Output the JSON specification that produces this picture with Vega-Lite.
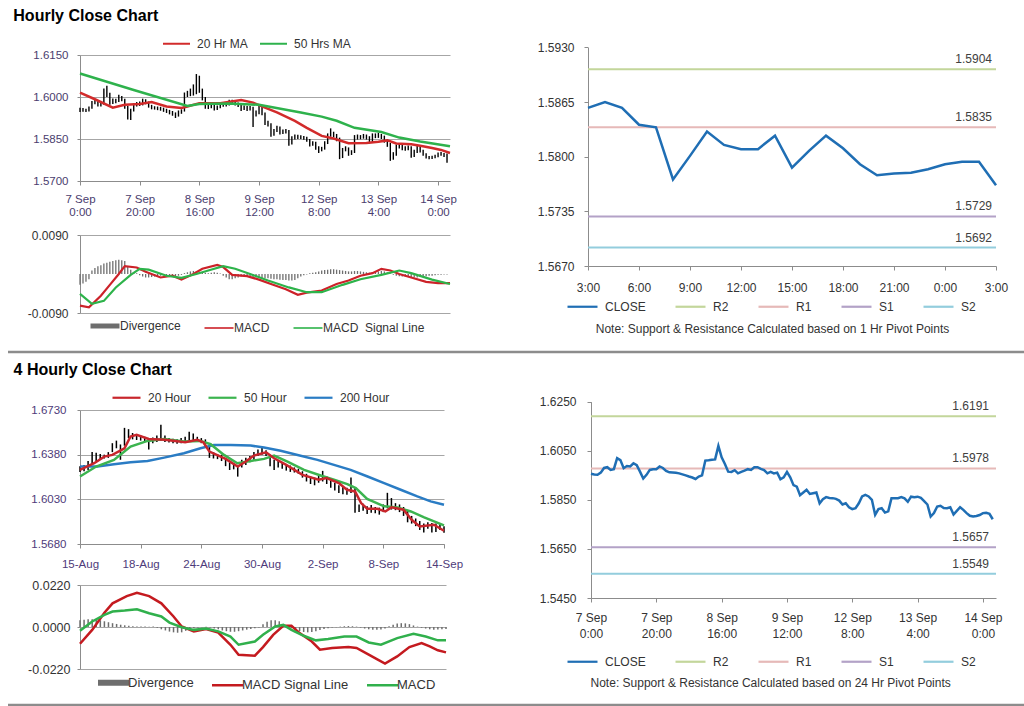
{
"$schema":"https://vega.github.io/schema/vega-lite/v6.json",
"background":"#ffffff",
"padding":{"left":6,"top":8,"right":0,"bottom":0},
"config":{"font":"Liberation Sans","view":{"stroke":null},
"axis":{"labelFont":"Liberation Sans","domainColor":"#8c8c8c","tickColor":"#8c8c8c","gridColor":"#a6a6a6","gridWidth":1,"domainWidth":1,"labelColor":"#404040"},
"legend":{"labelFont":"Liberation Sans","labelColor":"#333333","symbolType":"stroke","symbolStrokeWidth":2.2,"labelOffset":6},
"title":{"font":"Liberation Sans"}},
"datasets":{
"hourly":[
{"i":0,"c":1.5956,"l":1.5946,"h":1.5962,"d":-0.0025},{"i":1,"c":1.5953,"l":1.5947,"h":1.5961,"d":-0.0022},{"i":2,"c":1.5952,"l":1.5946,"h":1.5958,"d":-0.0018},{"i":3,"c":1.5961,"l":1.5948,"h":1.5966,"d":-0.0012},{"i":4,"c":1.5980,"l":1.5958,"h":1.5986,"d":0.0008},{"i":5,"c":1.5983,"l":1.5974,"h":1.5990,"d":0.0014},{"i":6,"c":1.5972,"l":1.5966,"h":1.5988,"d":0.0018},{"i":7,"c":1.5975,"l":1.5966,"h":1.5982,"d":0.0020},{"i":8,"c":1.6020,"l":1.5972,"h":1.6030,"d":0.0024},{"i":9,"c":1.6012,"l":1.6000,"h":1.6040,"d":0.0026},
{"i":10,"c":1.5979,"l":1.5972,"h":1.6015,"d":0.0028},{"i":11,"c":1.5988,"l":1.5975,"h":1.5995,"d":0.0030},{"i":12,"c":1.5986,"l":1.5978,"h":1.5994,"d":0.0032},{"i":13,"c":1.5999,"l":1.5982,"h":1.6008,"d":0.0033},{"i":14,"c":1.5991,"l":1.5985,"h":1.6004,"d":0.0032},{"i":15,"c":1.5965,"l":1.5958,"h":1.5994,"d":0.0030},{"i":16,"c":1.5937,"l":1.5920,"h":1.5968,"d":0.0018},{"i":17,"c":1.5952,"l":1.5918,"h":1.5958,"d":0.0010},{"i":18,"c":1.5972,"l":1.5948,"h":1.5978,"d":0.0004},{"i":19,"c":1.5975,"l":1.5966,"h":1.5982,"d":0.0002},
{"i":20,"c":1.5975,"l":1.5968,"h":1.5984,"d":-0.0003},{"i":21,"c":1.5986,"l":1.5970,"h":1.5994,"d":-0.0006},{"i":22,"c":1.5980,"l":1.5974,"h":1.5992,"d":-0.0008},{"i":23,"c":1.5968,"l":1.5962,"h":1.5984,"d":-0.0008},{"i":24,"c":1.5962,"l":1.5956,"h":1.5972,"d":-0.0007},{"i":25,"c":1.5961,"l":1.5955,"h":1.5967,"d":-0.0006},{"i":26,"c":1.5960,"l":1.5953,"h":1.5966,"d":-0.0005},{"i":27,"c":1.5958,"l":1.5951,"h":1.5965,"d":-0.0004},{"i":28,"c":1.5954,"l":1.5947,"h":1.5962,"d":-0.0003},{"i":29,"c":1.5950,"l":1.5943,"h":1.5958,"d":-0.0003},
{"i":30,"c":1.5945,"l":1.5938,"h":1.5954,"d":-0.0004},{"i":31,"c":1.5941,"l":1.5933,"h":1.5950,"d":-0.0005},{"i":32,"c":1.5935,"l":1.5925,"h":1.5945,"d":-0.0006},{"i":33,"c":1.5945,"l":1.5930,"h":1.5952,"d":-0.0004},{"i":34,"c":1.5950,"l":1.5940,"h":1.5956,"d":-0.0002},{"i":35,"c":1.6010,"l":1.5948,"h":1.6016,"d":0.0002},{"i":36,"c":1.6011,"l":1.6000,"h":1.6022,"d":0.0004},{"i":37,"c":1.6013,"l":1.6003,"h":1.6030,"d":0.0006},{"i":38,"c":1.6015,"l":1.6005,"h":1.6045,"d":0.0007},{"i":39,"c":1.6070,"l":1.6010,"h":1.6082,"d":0.0006},
{"i":40,"c":1.6023,"l":1.6015,"h":1.6076,"d":0.0005},{"i":41,"c":1.5996,"l":1.5988,"h":1.6030,"d":0.0004},{"i":42,"c":1.5965,"l":1.5958,"h":1.6000,"d":0.0003},{"i":43,"c":1.5964,"l":1.5957,"h":1.5972,"d":0.0002},{"i":44,"c":1.5971,"l":1.5960,"h":1.5978,"d":0.0003},{"i":45,"c":1.5958,"l":1.5952,"h":1.5975,"d":0.0004},{"i":46,"c":1.5964,"l":1.5954,"h":1.5970,"d":0.0003},{"i":47,"c":1.5969,"l":1.5960,"h":1.5975,"d":0.0001},{"i":48,"c":1.5975,"l":1.5965,"h":1.5982,"d":-0.0004},{"i":49,"c":1.5972,"l":1.5966,"h":1.5980,"d":-0.0008},
{"i":50,"c":1.5983,"l":1.5970,"h":1.5990,"d":-0.0012},{"i":51,"c":1.5983,"l":1.5976,"h":1.5990,"d":-0.0012},{"i":52,"c":1.5976,"l":1.5970,"h":1.5988,"d":-0.0010},{"i":53,"c":1.5971,"l":1.5964,"h":1.5980,"d":-0.0008},{"i":54,"c":1.5958,"l":1.5950,"h":1.5975,"d":-0.0006},{"i":55,"c":1.5964,"l":1.5954,"h":1.5970,"d":-0.0005},{"i":56,"c":1.5958,"l":1.5950,"h":1.5968,"d":-0.0006},{"i":57,"c":1.5961,"l":1.5952,"h":1.5968,"d":-0.0006},{"i":58,"c":1.5934,"l":1.5893,"h":1.5965,"d":-0.0007},{"i":59,"c":1.5942,"l":1.5930,"h":1.5952,"d":-0.0008},
{"i":60,"c":1.5964,"l":1.5938,"h":1.5970,"d":-0.0008},{"i":61,"c":1.5942,"l":1.5935,"h":1.5968,"d":-0.0009},{"i":62,"c":1.5910,"l":1.5900,"h":1.5945,"d":-0.0010},{"i":63,"c":1.5904,"l":1.5895,"h":1.5915,"d":-0.0010},{"i":64,"c":1.5869,"l":1.5858,"h":1.5906,"d":-0.0011},{"i":65,"c":1.5880,"l":1.5862,"h":1.5886,"d":-0.0012},{"i":66,"c":1.5891,"l":1.5875,"h":1.5897,"d":-0.0012},{"i":67,"c":1.5874,"l":1.5866,"h":1.5895,"d":-0.0013},{"i":68,"c":1.5877,"l":1.5868,"h":1.5884,"d":-0.0014},{"i":69,"c":1.5880,"l":1.5870,"h":1.5886,"d":-0.0014},
{"i":70,"c":1.5836,"l":1.5826,"h":1.5882,"d":-0.0015},{"i":71,"c":1.5853,"l":1.5830,"h":1.5860,"d":-0.0015},{"i":72,"c":1.5861,"l":1.5848,"h":1.5866,"d":-0.0014},{"i":73,"c":1.5858,"l":1.5850,"h":1.5865,"d":-0.0010},{"i":74,"c":1.5857,"l":1.5850,"h":1.5863,"d":-0.0006},{"i":75,"c":1.5854,"l":1.5847,"h":1.5861,"d":-0.0003},{"i":76,"c":1.5847,"l":1.5840,"h":1.5858,"d":-0.0001},{"i":77,"c":1.5831,"l":1.5823,"h":1.5850,"d":0.0002},{"i":78,"c":1.5836,"l":1.5826,"h":1.5842,"d":0.0003},{"i":79,"c":1.5820,"l":1.5812,"h":1.5840,"d":0.0004},
{"i":80,"c":1.5812,"l":1.5800,"h":1.5824,"d":0.0006},{"i":81,"c":1.5816,"l":1.5806,"h":1.5822,"d":0.0008},{"i":82,"c":1.5836,"l":1.5812,"h":1.5842,"d":0.0009},{"i":83,"c":1.5864,"l":1.5832,"h":1.5870,"d":0.0010},{"i":84,"c":1.5870,"l":1.5858,"h":1.5888,"d":0.0011},{"i":85,"c":1.5864,"l":1.5856,"h":1.5876,"d":0.0011},{"i":86,"c":1.5850,"l":1.5842,"h":1.5868,"d":0.0010},{"i":87,"c":1.5789,"l":1.5778,"h":1.5855,"d":0.0009},{"i":88,"c":1.5812,"l":1.5782,"h":1.5818,"d":0.0008},{"i":89,"c":1.5816,"l":1.5806,"h":1.5824,"d":0.0007},
{"i":90,"c":1.5798,"l":1.5790,"h":1.5820,"d":0.0006},{"i":91,"c":1.5803,"l":1.5793,"h":1.5810,"d":0.0006},{"i":92,"c":1.5857,"l":1.5800,"h":1.5864,"d":0.0007},{"i":93,"c":1.5857,"l":1.5848,"h":1.5866,"d":0.0007},{"i":94,"c":1.5857,"l":1.5849,"h":1.5864,"d":0.0006},{"i":95,"c":1.5861,"l":1.5851,"h":1.5868,"d":0.0005},{"i":96,"c":1.5856,"l":1.5848,"h":1.5866,"d":0.0004},{"i":97,"c":1.5842,"l":1.5834,"h":1.5860,"d":0.0003},{"i":98,"c":1.5863,"l":1.5838,"h":1.5870,"d":0.0004},{"i":99,"c":1.5861,"l":1.5853,"h":1.5870,"d":0.0005},
{"i":100,"c":1.5863,"l":1.5854,"h":1.5872,"d":0.0006},{"i":101,"c":1.5858,"l":1.5850,"h":1.5868,"d":0.0007},{"i":102,"c":1.5845,"l":1.5837,"h":1.5862,"d":0.0006},{"i":103,"c":1.5831,"l":1.5822,"h":1.5849,"d":0.0004},{"i":104,"c":1.5782,"l":1.5772,"h":1.5836,"d":0.0001},{"i":105,"c":1.5796,"l":1.5776,"h":1.5803,"d":-0.0002},{"i":106,"c":1.5823,"l":1.5790,"h":1.5830,"d":-0.0004},{"i":107,"c":1.5826,"l":1.5816,"h":1.5833,"d":-0.0005},{"i":108,"c":1.5817,"l":1.5810,"h":1.5830,"d":-0.0006},{"i":109,"c":1.5816,"l":1.5808,"h":1.5824,"d":-0.0006},
{"i":110,"c":1.5820,"l":1.5810,"h":1.5827,"d":-0.0007},{"i":111,"c":1.5790,"l":1.5783,"h":1.5824,"d":-0.0008},{"i":112,"c":1.5805,"l":1.5786,"h":1.5812,"d":-0.0008},{"i":113,"c":1.5820,"l":1.5800,"h":1.5826,"d":-0.0008},{"i":114,"c":1.5809,"l":1.5802,"h":1.5824,"d":-0.0007},{"i":115,"c":1.5796,"l":1.5790,"h":1.5812,"d":-0.0006},{"i":116,"c":1.5785,"l":1.5780,"h":1.5799,"d":-0.0005},{"i":117,"c":1.5782,"l":1.5778,"h":1.5789,"d":-0.0004},{"i":118,"c":1.5784,"l":1.5779,"h":1.5790,"d":-0.0004},{"i":119,"c":1.5788,"l":1.5781,"h":1.5794,"d":-0.0003},
{"i":120,"c":1.5796,"l":1.5785,"h":1.5802,"d":-0.0002},{"i":121,"c":1.5797,"l":1.5790,"h":1.5804,"d":-0.0002},{"i":122,"c":1.5793,"l":1.5786,"h":1.5800,"d":-0.0001},{"i":123,"c":1.5771,"l":1.5765,"h":1.5798,"d":-0.0001}],
"p1a":[{"i":0,"v":1.6016},{"i":5,"v":1.5992},{"i":11,"v":1.5962},{"i":15,"v":1.5972},{"i":20,"v":1.5975},{"i":24,"v":1.5982},{"i":29,"v":1.5966},{"i":34,"v":1.5961},{"i":36,"v":1.5966},{"i":40,"v":1.5978},{"i":47,"v":1.5978},{"i":54,"v":1.5989},{"i":58,"v":1.5980},{"i":62,"v":1.5962},{"i":66,"v":1.5945},{"i":72,"v":1.5915},{"i":76,"v":1.5890},{"i":81,"v":1.5861},{"i":85,"v":1.5852},{"i":90,"v":1.5835},{"i":96,"v":1.5836},{"i":100,"v":1.5840},{"i":103,"v":1.5845},{"i":106,"v":1.5834},{"i":111,"v":1.5831},{"i":114,"v":1.5826},{"i":118,"v":1.5818},{"i":121,"v":1.5811},{"i":124,"v":1.5800}],
"p1b":[{"i":0,"v":1.6084},{"i":18,"v":1.6025},{"i":36,"v":1.5968},{"i":40,"v":1.5975},{"i":50,"v":1.5977},{"i":60,"v":1.5972},{"i":74,"v":1.5945},{"i":81,"v":1.5930},{"i":86,"v":1.5915},{"i":92,"v":1.5890},{"i":101,"v":1.5875},{"i":107,"v":1.5855},{"i":114,"v":1.5841},{"i":124,"v":1.5824}],
"m1a":[{"i":0,"v":-0.0073},{"i":3,"v":-0.0077},{"i":7,"v":-0.0050},{"i":10,"v":-0.0025},{"i":13,"v":0.0},{"i":15,"v":0.0018},{"i":19,"v":0.0015},{"i":22,"v":0.0005},{"i":27,"v":-0.0008},{"i":31,"v":-0.0004},{"i":34,"v":-0.0013},{"i":38,"v":0.0},{"i":41,"v":0.0012},{"i":46,"v":0.0021},{"i":48,"v":0.0016},{"i":51,"v":-0.0002},{"i":56,"v":-0.0005},{"i":60,"v":-0.0013},{"i":64,"v":-0.0023},{"i":69,"v":-0.0035},{"i":73,"v":-0.0048},{"i":76,"v":-0.0043},{"i":81,"v":-0.0038},{"i":86,"v":-0.0023},{"i":90,"v":-0.0015},{"i":94,"v":-0.0004},{"i":98,"v":0.0002},{"i":101,"v":0.0012},{"i":104,"v":0.0008},{"i":107,"v":0.0},{"i":111,"v":-0.0008},{"i":116,"v":-0.0018},{"i":120,"v":-0.0021},{"i":124,"v":-0.0021}],
"m1b":[{"i":0,"v":-0.0046},{"i":4,"v":-0.0069},{"i":8,"v":-0.0062},{"i":12,"v":-0.0031},{"i":17,"v":-0.0002},{"i":20,"v":0.0012},{"i":23,"v":0.0010},{"i":29,"v":-0.0004},{"i":34,"v":-0.0009},{"i":39,"v":0.0},{"i":43,"v":0.0008},{"i":48,"v":0.0018},{"i":52,"v":0.0012},{"i":57,"v":0.0},{"i":63,"v":-0.0015},{"i":70,"v":-0.0031},{"i":76,"v":-0.0042},{"i":81,"v":-0.0042},{"i":88,"v":-0.0025},{"i":94,"v":-0.0012},{"i":101,"v":-0.0002},{"i":107,"v":0.0008},{"i":111,"v":0.0002},{"i":118,"v":-0.0013},{"i":124,"v":-0.0023}],
"r1close":[{"i":0,"v":1.5858},{"i":1,"v":1.5865},{"i":2,"v":1.5858},{"i":3,"v":1.5838},{"i":4,"v":1.5835},{"i":5,"v":1.5773},{"i":6,"v":1.5801},{"i":7,"v":1.5830},{"i":8,"v":1.5814},{"i":9,"v":1.5809},{"i":10,"v":1.5809},{"i":11,"v":1.5825},{"i":12,"v":1.5787},{"i":13,"v":1.5807},{"i":14,"v":1.5825},{"i":15,"v":1.5810},{"i":16,"v":1.5791},{"i":17,"v":1.5778},{"i":18,"v":1.5780},{"i":19,"v":1.5781},{"i":20,"v":1.5785},{"i":21,"v":1.5791},{"i":22,"v":1.5794},{"i":23,"v":1.5794},{"i":24,"v":1.5766}],
"piv1":[{"n":"R2","v":1.5904},{"n":"R1","v":1.5835},{"n":"S1","v":1.5729},{"n":"S2","v":1.5692}],
"piv2":[{"n":"R2","v":1.6191},{"n":"R1","v":1.5978},{"n":"S1","v":1.5657},{"n":"S2","v":1.5549}],
"four":[
{"i":0,"l":1.6245,"h":1.6290,"d":0.0035},{"i":1,"l":1.6250,"h":1.6300,"d":0.0038},{"i":2,"l":1.6260,"h":1.6330,"d":0.0040},{"i":3,"l":1.6300,"h":1.6400,"d":0.0040},{"i":4,"l":1.6330,"h":1.6395,"d":0.0038},{"i":5,"l":1.6345,"h":1.6385,"d":0.0035},{"i":6,"l":1.6350,"h":1.6380,"d":0.0030},{"i":7,"l":1.6355,"h":1.6400,"d":0.0025},{"i":8,"l":1.6400,"h":1.6470,"d":0.0020},{"i":9,"l":1.6430,"h":1.6490,"d":0.0016},
{"i":10,"l":1.6340,"h":1.6460,"d":0.0012},{"i":11,"l":1.6450,"h":1.6590,"d":0.0009},{"i":12,"l":1.6510,"h":1.6580,"d":0.0006},{"i":13,"l":1.6500,"h":1.6550,"d":0.0004},{"i":14,"l":1.6495,"h":1.6540,"d":0.0003},{"i":15,"l":1.6490,"h":1.6530,"d":0.0002},{"i":16,"l":1.6480,"h":1.6520,"d":0.0002},{"i":17,"l":1.6420,"h":1.6510,"d":0.0001},{"i":18,"l":1.6470,"h":1.6515,"d":0.0002},{"i":19,"l":1.6480,"h":1.6530,"d":-0.0004},
{"i":20,"l":1.6490,"h":1.6615,"d":-0.0012},{"i":21,"l":1.6480,"h":1.6530,"d":-0.0018},{"i":22,"l":1.6475,"h":1.6510,"d":-0.0024},{"i":23,"l":1.6470,"h":1.6505,"d":-0.0028},{"i":24,"l":1.6465,"h":1.6500,"d":-0.0030},{"i":25,"l":1.6470,"h":1.6510,"d":-0.0028},{"i":26,"l":1.6480,"h":1.6520,"d":-0.0020},{"i":27,"l":1.6490,"h":1.6560,"d":-0.0012},{"i":28,"l":1.6485,"h":1.6545,"d":-0.0006},{"i":29,"l":1.6480,"h":1.6520,"d":-0.0003},
{"i":30,"l":1.6470,"h":1.6510,"d":-0.0001},{"i":31,"l":1.6440,"h":1.6500,"d":0.0001},{"i":32,"l":1.6355,"h":1.6450,"d":-0.0003},{"i":33,"l":1.6350,"h":1.6400,"d":-0.0008},{"i":34,"l":1.6345,"h":1.6385,"d":-0.0012},{"i":35,"l":1.6330,"h":1.6380,"d":-0.0018},{"i":36,"l":1.6290,"h":1.6350,"d":-0.0022},{"i":37,"l":1.6260,"h":1.6320,"d":-0.0025},{"i":38,"l":1.6265,"h":1.6315,"d":-0.0025},{"i":39,"l":1.6208,"h":1.6300,"d":-0.0022},
{"i":40,"l":1.6280,"h":1.6340,"d":-0.0018},{"i":41,"l":1.6300,"h":1.6355,"d":-0.0014},{"i":42,"l":1.6320,"h":1.6370,"d":-0.0010},{"i":43,"l":1.6340,"h":1.6400,"d":-0.0006},{"i":44,"l":1.6370,"h":1.6420,"d":-0.0002},{"i":45,"l":1.6380,"h":1.6440,"d":0.0015},{"i":46,"l":1.6370,"h":1.6415,"d":0.0028},{"i":47,"l":1.6290,"h":1.6380,"d":0.0035},{"i":48,"l":1.6260,"h":1.6340,"d":0.0036},{"i":49,"l":1.6280,"h":1.6330,"d":0.0030},
{"i":50,"l":1.6270,"h":1.6320,"d":0.0015},{"i":51,"l":1.6255,"h":1.6305,"d":0.0005},{"i":52,"l":1.6245,"h":1.6295,"d":-0.0005},{"i":53,"l":1.6240,"h":1.6280,"d":-0.0015},{"i":54,"l":1.6230,"h":1.6270,"d":-0.0022},{"i":55,"l":1.6200,"h":1.6250,"d":-0.0026},{"i":56,"l":1.6170,"h":1.6230,"d":-0.0028},{"i":57,"l":1.6150,"h":1.6210,"d":-0.0026},{"i":58,"l":1.6140,"h":1.6200,"d":-0.0022},{"i":59,"l":1.6160,"h":1.6215,"d":-0.0016},
{"i":60,"l":1.6170,"h":1.6253,"d":-0.0010},{"i":61,"l":1.6150,"h":1.6210,"d":-0.0006},{"i":62,"l":1.6120,"h":1.6180,"d":-0.0003},{"i":63,"l":1.6100,"h":1.6160,"d":-0.0001},{"i":64,"l":1.6080,"h":1.6140,"d":0.0002},{"i":65,"l":1.6070,"h":1.6130,"d":0.0004},{"i":66,"l":1.6065,"h":1.6120,"d":0.0005},{"i":67,"l":1.6080,"h":1.6201,"d":0.0004},{"i":68,"l":1.5925,"h":1.6120,"d":0.0002},{"i":69,"l":1.5930,"h":1.5990,"d":-0.0003},
{"i":70,"l":1.5940,"h":1.5995,"d":-0.0008},{"i":71,"l":1.5915,"h":1.5975,"d":-0.0012},{"i":72,"l":1.5925,"h":1.5985,"d":-0.0015},{"i":73,"l":1.5920,"h":1.5970,"d":-0.0015},{"i":74,"l":1.5910,"h":1.5965,"d":-0.0013},{"i":75,"l":1.5930,"h":1.5990,"d":-0.0008},{"i":76,"l":1.5960,"h":1.6081,"d":0.0004},{"i":77,"l":1.5950,"h":1.6040,"d":0.0012},{"i":78,"l":1.5945,"h":1.6000,"d":0.0018},{"i":79,"l":1.5930,"h":1.5990,"d":0.0020},
{"i":80,"l":1.5900,"h":1.5970,"d":0.0019},{"i":81,"l":1.5850,"h":1.5940,"d":0.0015},{"i":82,"l":1.5840,"h":1.5900,"d":0.0008},{"i":83,"l":1.5820,"h":1.5880,"d":0.0002},{"i":84,"l":1.5790,"h":1.5860,"d":-0.0004},{"i":85,"l":1.5770,"h":1.5840,"d":-0.0008},{"i":86,"l":1.5800,"h":1.5850,"d":-0.0012},{"i":87,"l":1.5770,"h":1.5845,"d":-0.0014},{"i":88,"l":1.5775,"h":1.5840,"d":-0.0013},{"i":89,"l":1.5790,"h":1.5835,"d":-0.0012},
{"i":90,"l":1.5768,"h":1.5820,"d":-0.0010}],
"p2a":[{"i":0,"v":1.6261},{"i":3.5,"v":1.6313},{"i":6,"v":1.6365},{"i":8,"v":1.6378},{"i":11,"v":1.6430},{"i":12.5,"v":1.6522},{"i":14,"v":1.6535},{"i":17,"v":1.6503},{"i":21,"v":1.6496},{"i":26,"v":1.6477},{"i":29,"v":1.6496},{"i":30.5,"v":1.6477},{"i":32,"v":1.6404},{"i":36,"v":1.6347},{"i":39,"v":1.6287},{"i":41,"v":1.6326},{"i":43,"v":1.6373},{"i":46,"v":1.6399},{"i":48,"v":1.6352},{"i":51,"v":1.6300},{"i":55,"v":1.6222},{"i":59,"v":1.6183},{"i":61,"v":1.6196},{"i":64,"v":1.6157},{"i":66,"v":1.6105},{"i":68,"v":1.6092},{"i":69.5,"v":1.6001},{"i":71,"v":1.5956},{"i":73.5,"v":1.5956},{"i":75.5,"v":1.5935},{"i":77,"v":1.5967},{"i":80,"v":1.5949},{"i":82,"v":1.5870},{"i":84,"v":1.5818},{"i":87.5,"v":1.5831},{"i":90,"v":1.5784}],
"p2b":[{"i":0,"v":1.6209},{"i":4,"v":1.6287},{"i":8.4,"v":1.6339},{"i":12.5,"v":1.6443},{"i":16.7,"v":1.6488},{"i":20.8,"v":1.6503},{"i":25.7,"v":1.6483},{"i":29.8,"v":1.6488},{"i":32.3,"v":1.6462},{"i":35.6,"v":1.6378},{"i":38.9,"v":1.6313},{"i":42.2,"v":1.6331},{"i":45.5,"v":1.6347},{"i":48,"v":1.6373},{"i":51.3,"v":1.6326},{"i":55.4,"v":1.6261},{"i":59.5,"v":1.6217},{"i":62.8,"v":1.6183},{"i":66.1,"v":1.6149},{"i":68.2,"v":1.6118},{"i":71,"v":1.6034},{"i":75.2,"v":1.5975},{"i":78.5,"v":1.5967},{"i":81.8,"v":1.5935},{"i":85.1,"v":1.5889},{"i":90,"v":1.5826}],
"p2c":[{"i":0,"v":1.6287},{"i":4.3,"v":1.6287},{"i":8.4,"v":1.6305},{"i":12.5,"v":1.6321},{"i":16.7,"v":1.6331},{"i":20.8,"v":1.6357},{"i":25.7,"v":1.6391},{"i":29.8,"v":1.6430},{"i":33.1,"v":1.6456},{"i":37.3,"v":1.6456},{"i":42.2,"v":1.6451},{"i":45.5,"v":1.6436},{"i":49.6,"v":1.6410},{"i":53.8,"v":1.6378},{"i":58.7,"v":1.6339},{"i":62.8,"v":1.6300},{"i":66.9,"v":1.6261},{"i":71.1,"v":1.6209},{"i":75.2,"v":1.6157},{"i":79.3,"v":1.6105},{"i":83.4,"v":1.6053},{"i":86.7,"v":1.6014},{"i":90,"v":1.5988}],
"m2a":[{"i":0,"v":-0.0088},{"i":3,"v":-0.0015},{"i":6,"v":0.0075},{"i":8,"v":0.0124},{"i":11.5,"v":0.0162},{"i":14,"v":0.0179},{"i":17,"v":0.0162},{"i":20,"v":0.0124},{"i":23,"v":0.0055},{"i":25,"v":0.0003},{"i":28,"v":-0.0023},{"i":31,"v":-0.0011},{"i":34,"v":-0.0029},{"i":37,"v":-0.0093},{"i":39,"v":-0.0145},{"i":43,"v":-0.0150},{"i":45,"v":-0.0105},{"i":47.5,"v":-0.0041},{"i":50,"v":0.0006},{"i":52,"v":0.0006},{"i":54,"v":-0.0032},{"i":57,"v":-0.0076},{"i":59,"v":-0.0119},{"i":62,"v":-0.0110},{"i":66,"v":-0.0105},{"i":68,"v":-0.0110},{"i":71,"v":-0.0145},{"i":73,"v":-0.0168},{"i":75,"v":-0.0192},{"i":78,"v":-0.0154},{"i":81,"v":-0.0105},{"i":84,"v":-0.0084},{"i":86,"v":-0.0102},{"i":88,"v":-0.0122},{"i":90,"v":-0.0133}],
"m2b":[{"i":0,"v":-0.0019},{"i":3,"v":0.0029},{"i":6,"v":0.0063},{"i":8,"v":0.0081},{"i":11,"v":0.0086},{"i":14,"v":0.0093},{"i":17,"v":0.0072},{"i":20,"v":0.0055},{"i":22,"v":0.0023},{"i":25,"v":-0.0001},{"i":28,"v":-0.0015},{"i":31,"v":-0.0008},{"i":34,"v":-0.0023},{"i":37,"v":-0.0050},{"i":39,"v":-0.0093},{"i":43,"v":-0.0076},{"i":45,"v":-0.0041},{"i":48,"v":0.0003},{"i":50,"v":0.0011},{"i":52,"v":-0.0015},{"i":55,"v":-0.0046},{"i":58,"v":-0.0070},{"i":61,"v":-0.0063},{"i":65,"v":-0.0050},{"i":68,"v":-0.0050},{"i":71,"v":-0.0081},{"i":74,"v":-0.0093},{"i":78,"v":-0.0058},{"i":82,"v":-0.0036},{"i":85,"v":-0.0050},{"i":88,"v":-0.0070},{"i":90,"v":-0.0070}],
"sep":[{"a":0,"b":1}]
},
"resolve":{"scale":{"color":"independent"},"legend":{"color":"independent"}},
"spacing":8,
"vconcat":[
{"title":{"text":"Hourly Close Chart","anchor":"start","dx":-14,"offset":5,"fontSize":16,"fontWeight":"bold","color":"#000000"},
 "spacing":80,
 "resolve":{"scale":{"color":"independent"},"legend":{"color":"independent"}},
 "hconcat":[
  {"spacing":11,
   "resolve":{"scale":{"color":"independent"},"legend":{"color":"independent"}},
   "vconcat":[
    {"width":370,"height":126,
     "layer":[
      {"data":{"name":"hourly"},"mark":{"type":"rule","color":"#000000","strokeWidth":1.4},
       "encoding":{
        "x":{"field":"i","type":"quantitative","title":null,"scale":{"domain":[0,124],"nice":false,"zero":false},
             "axis":{"values":[0,20,40,60,80,100,120],"labelExpr":"[['7 Sep','0:00'],['7 Sep','20:00'],['8 Sep','16:00'],['9 Sep','12:00'],['12 Sep','8:00'],['13 Sep','4:00'],['14 Sep','0:00']][round(datum.value/20)]","grid":false,"tickSize":4,"labelPadding":8,"labelFontSize":11.5,"labelColor":"#4a3d6e","labelLineHeight":13.5,"labelOverlap":false,"labelFlush":false,"labelBound":false}},
        "y":{"field":"l","type":"quantitative","title":null,"scale":{"domain":[1.57,1.615],"nice":false,"zero":false},
             "axis":{"values":[1.57,1.585,1.6,1.615],"format":".4f","grid":true,"tickSize":3,"labelPadding":9,"labelFontSize":11.5,"labelColor":"#4a3d6e"}},
        "y2":{"field":"h"}}},
      {"data":{"name":"p1a"},"mark":{"type":"line","strokeWidth":2.5},
       "encoding":{"x":{"field":"i","type":"quantitative"},"y":{"field":"v","type":"quantitative"},
        "color":{"datum":"20 Hr MA","scale":{"domain":["20 Hr MA","50 Hrs MA"],"range":["#d22b2b","#2eb24c"]},
         "legend":{"orient":"none","legendX":82,"legendY":-26,"direction":"horizontal","title":null,"symbolSize":729,"symbolStrokeWidth":2,"labelFontSize":12,"columnPadding":8}}}},
      {"data":{"name":"p1b"},"mark":{"type":"line","strokeWidth":2.5},
       "encoding":{"x":{"field":"i","type":"quantitative"},"y":{"field":"v","type":"quantitative"},"color":{"datum":"50 Hrs MA"}}}
     ]},
    {"width":370,"height":78,
     "layer":[
      {"data":{"name":"hourly"},"mark":{"type":"rule","strokeWidth":1.3},
       "encoding":{
        "x":{"field":"i","type":"quantitative","title":null,"scale":{"domain":[0,124],"nice":false,"zero":false},"axis":null},
        "y":{"field":"d","type":"quantitative","title":null,"scale":{"domain":[-0.009,0.009],"nice":false,"zero":false},
             "axis":{"values":[-0.009,0,0.009],"labelExpr":"datum.value < 0 ? '-' + format(-datum.value, '.4f') : format(datum.value, '.4f')","grid":true,"tickSize":3,"labelPadding":9,"labelFontSize":12,"labelColor":"#333333"}},
        "y2":{"datum":0},
        "color":{"datum":"Divergence","scale":{"domain":["Divergence","MACD","MACD\u00a0 Signal Line"],"range":["#6e6e6e","#cc2229","#2db34a"]},
         "legend":{"orient":"none","legendX":19,"legendY":85,"direction":"horizontal","title":null,"symbolSize":841,"labelFontSize":12,"labelOffset":9,"columnPadding":20,
          "encode":{"symbols":{"update":{"strokeWidth":{"signal":"datum.value === 'Divergence' ? 5 : 1.6"}}}}}}}},
      {"data":{"name":"m1a"},"mark":{"type":"line","strokeWidth":2.2},
       "encoding":{"x":{"field":"i","type":"quantitative"},"y":{"field":"v","type":"quantitative"},"color":{"datum":"MACD"}}},
      {"data":{"name":"m1b"},"mark":{"type":"line","strokeWidth":2.2},
       "encoding":{"x":{"field":"i","type":"quantitative"},"y":{"field":"v","type":"quantitative"},"color":{"datum":"MACD\u00a0 Signal Line"}}}
     ]}
   ]},
  {"width":408,"height":211,
   "title":{"text":"Note: Support & Resistance Calculated based on 1 Hr Pivot Points","orient":"bottom","anchor":"middle","frame":"bounds","offset":11,"fontSize":12,"fontWeight":"normal","color":"#333333"},
   "layer":[
    {"data":{"name":"piv1"},"mark":{"type":"rule","strokeWidth":2},
     "encoding":{
      "y":{"field":"v","type":"quantitative","title":null,"scale":{"domain":[1.567,1.593],"range":[211,-7.6],"nice":false,"zero":false},
           "axis":{"values":[1.567,1.5735,1.58,1.5865,1.593],"format":".4f","grid":false,"tickSize":4,"labelPadding":10,"labelFontSize":12,"labelColor":"#333333"}},
      "color":{"field":"n","type":"nominal","scale":{"domain":["CLOSE","R2","R1","S1","S2"],"range":["#1f6eb4","#c3d69b","#e6b9b8","#b3a2c7","#93cddd"]},
       "legend":{"orient":"none","legendX":-22,"legendY":235,"direction":"horizontal","title":null,"symbolSize":900,"labelFontSize":12,"columnPadding":25}}}},
    {"data":{"name":"piv1"},"mark":{"type":"text","align":"right","baseline":"bottom","dx":-4,"dy":-3,"fontSize":12,"color":"#404040"},
     "encoding":{"x":{"datum":24,"type":"quantitative"},"y":{"field":"v","type":"quantitative"},"text":{"field":"v","format":".4f"}}},
    {"data":{"name":"r1close"},"mark":{"type":"line","strokeWidth":2.5},
     "encoding":{
      "x":{"field":"i","type":"quantitative","title":null,"scale":{"domain":[0,24],"nice":false,"zero":false},
           "axis":{"values":[0,3,6,9,12,15,18,21,24],"labelExpr":"((datum.value+3)%24)+':00'","grid":false,"tickSize":4,"labelPadding":12,"labelFontSize":12,"labelColor":"#333333","labelFlush":false,"labelOverlap":false}},
      "y":{"field":"v","type":"quantitative"},"color":{"datum":"CLOSE"}}}
   ]}
 ]},
{"width":860,"height":8,"data":{"name":"sep"},"mark":{"type":"rule","color":"#8c8c8c","strokeWidth":2.5},
 "encoding":{"x":{"field":"a","type":"quantitative","scale":{"domain":[0,1],"range":[-72,945]},"axis":null},"x2":{"field":"b"},
  "y":{"datum":0,"type":"quantitative","scale":{"domain":[0,1]},"axis":null}}},
{"title":{"text":"4 Hourly Close Chart","anchor":"start","dx":-14,"offset":4,"fontSize":16,"fontWeight":"bold","color":"#000000"},
 "spacing":76,
 "resolve":{"scale":{"color":"independent"},"legend":{"color":"independent"}},
 "hconcat":[
  {"spacing":9,
   "resolve":{"scale":{"color":"independent"},"legend":{"color":"independent"}},
   "vconcat":[
    {"width":364,"height":134,
     "layer":[
      {"data":{"name":"four"},"mark":{"type":"rule","color":"#000000","strokeWidth":1.5},
       "encoding":{
        "x":{"field":"i","type":"quantitative","title":null,"scale":{"domain":[0,90],"nice":false,"zero":false},
             "axis":{"values":[0,15,30,45,60,75,90],"labelExpr":"['15-Aug','18-Aug','24-Aug','30-Aug','2-Sep','8-Sep','14-Sep'][round(datum.value/15)]","grid":false,"tickSize":4,"labelPadding":10,"labelFontSize":11.5,"labelColor":"#4e3b7a","labelOverlap":false,"labelFlush":false,"labelBound":false}},
        "y":{"field":"l","type":"quantitative","title":null,"scale":{"domain":[1.568,1.673],"nice":false,"zero":false},
             "axis":{"values":[1.568,1.603,1.638,1.673],"format":".4f","grid":true,"tickSize":3,"labelPadding":11,"labelFontSize":11.5,"labelColor":"#4e3b7a"}},
        "y2":{"field":"h"}}},
      {"data":{"name":"p2c"},"mark":{"type":"line","strokeWidth":2.5},
       "encoding":{"x":{"field":"i","type":"quantitative"},"y":{"field":"v","type":"quantitative"},
        "color":{"datum":"200 Hour","scale":{"domain":["20 Hour","50 Hour","200 Hour"],"range":["#c8262c","#3cb44f","#2a7cc4"]},
         "legend":{"orient":"none","legendX":31,"legendY":-28,"direction":"horizontal","title":null,"symbolSize":784,"labelFontSize":12,"columnPadding":13}}}},
      {"data":{"name":"p2b"},"mark":{"type":"line","strokeWidth":2.5},
       "encoding":{"x":{"field":"i","type":"quantitative"},"y":{"field":"v","type":"quantitative"},"color":{"datum":"50 Hour"}}},
      {"data":{"name":"p2a"},"mark":{"type":"line","strokeWidth":2.5},
       "encoding":{"x":{"field":"i","type":"quantitative"},"y":{"field":"v","type":"quantitative"},"color":{"datum":"20 Hour"}}}
     ]},
    {"width":366,"height":84,
     "layer":[
      {"data":{"name":"four"},"mark":{"type":"rule","strokeWidth":1.5},
       "encoding":{
        "x":{"field":"i","type":"quantitative","title":null,"scale":{"domain":[0,90],"nice":false,"zero":false},"axis":null},
        "y":{"field":"d","type":"quantitative","title":null,"scale":{"domain":[-0.022,0.022],"nice":false,"zero":false},
             "axis":{"values":[-0.022,0,0.022],"labelExpr":"datum.value < 0 ? '-' + format(-datum.value, '.4f') : format(datum.value, '.4f')","grid":true,"tickSize":3,"labelPadding":7,"labelFontSize":12.5,"labelColor":"#333333"}},
        "y2":{"datum":0},
        "color":{"datum":"Divergence","scale":{"domain":["Divergence","MACD Signal Line","MACD"],"range":["#6e6e6e","#c41a1f","#30b04c"]},
         "legend":{"orient":"none","legendX":27,"legendY":91,"direction":"horizontal","title":null,"symbolSize":961,"labelFontSize":13,"labelOffset":8,"columnPadding":13,
          "encode":{"symbols":{"update":{"strokeWidth":{"signal":"datum.value === 'Divergence' ? 6 : 2.5"}}}}}}}},
      {"data":{"name":"m2a"},"mark":{"type":"line","strokeWidth":2.5},
       "encoding":{"x":{"field":"i","type":"quantitative"},"y":{"field":"v","type":"quantitative"},"color":{"datum":"MACD Signal Line"}}},
      {"data":{"name":"m2b"},"mark":{"type":"line","strokeWidth":2.5},
       "encoding":{"x":{"field":"i","type":"quantitative"},"y":{"field":"v","type":"quantitative"},"color":{"datum":"MACD"}}}
     ]}
   ]},
  {"width":405,"height":188,
   "title":{"text":"Note: Support & Resistance Calculated based on 24 Hr Pivot Points","orient":"bottom","anchor":"middle","frame":"bounds","offset":10,"fontSize":12,"fontWeight":"normal","color":"#333333"},
   "layer":[
    {"data":{"name":"piv2"},"mark":{"type":"rule","strokeWidth":2},
     "encoding":{
      "y":{"field":"v","type":"quantitative","title":null,"scale":{"domain":[1.545,1.625],"range":[188,-8.3],"nice":false,"zero":false},
           "axis":{"values":[1.545,1.565,1.585,1.605,1.625],"format":".4f","grid":false,"tickSize":4,"labelPadding":11,"labelFontSize":12,"labelColor":"#333333"}},
      "color":{"field":"n","type":"nominal","scale":{"domain":["CLOSE","R2","R1","S1","S2"],"range":["#1f6eb4","#c3d69b","#e6b9b8","#b3a2c7","#93cddd"]},
       "legend":{"orient":"none","legendX":-25,"legendY":235,"direction":"horizontal","title":null,"symbolSize":900,"labelFontSize":12,"columnPadding":25}}}},
    {"data":{"name":"piv2"},"mark":{"type":"text","align":"right","baseline":"bottom","dx":-7,"dy":-3,"fontSize":12,"color":"#404040"},
     "encoding":{"x":{"datum":124,"type":"quantitative"},"y":{"field":"v","type":"quantitative"},"text":{"field":"v","format":".4f"}}},
    {"data":{"name":"hourly"},"mark":{"type":"line","strokeWidth":2.5},
     "encoding":{
      "x":{"field":"i","type":"quantitative","title":null,"scale":{"domain":[0,124],"nice":false,"zero":false},
           "axis":{"values":[0,20,40,60,80,100,120],"labelExpr":"[['7 Sep','0:00'],['7 Sep','20:00'],['8 Sep','16:00'],['9 Sep','12:00'],['12 Sep','8:00'],['13 Sep','4:00'],['14 Sep','0:00']][round(datum.value/20)]","grid":false,"tickSize":4,"labelPadding":10,"labelFontSize":12,"labelColor":"#333333","labelLineHeight":16,"labelOverlap":false,"labelFlush":false,"labelBound":false}},
      "y":{"field":"c","type":"quantitative"},"color":{"datum":"CLOSE"}}}
   ]}
 ]},
{"width":860,"height":2,"data":{"name":"sep"},"mark":{"type":"rule","color":"#8c8c8c","strokeWidth":2.5},
 "encoding":{"x":{"field":"a","type":"quantitative","scale":{"domain":[0,1],"range":[-72,945]},"axis":null},"x2":{"field":"b"},
  "y":{"datum":0,"type":"quantitative","scale":{"domain":[0,1]},"axis":null}}}
]
}
